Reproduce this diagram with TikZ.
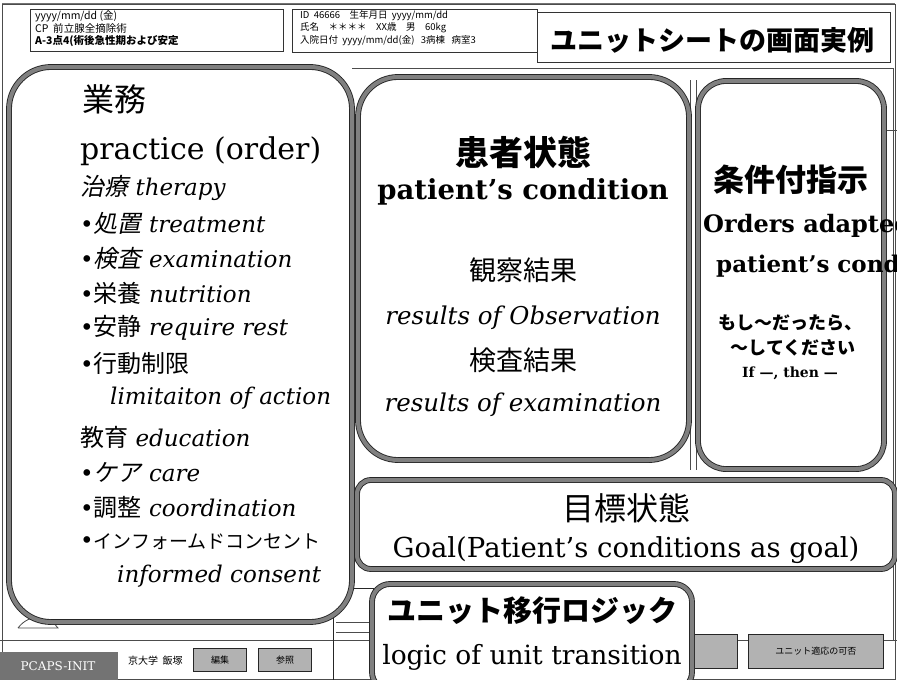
\documentclass[tikz,border=0pt]{standalone}
\usepackage{fontspec}
\setmainfont{DejaVu Serif}
\newfontfamily\jp{Noto Sans CJK JP}
\newfontfamily\jpi[FakeSlant=0.2]{Noto Sans CJK JP}
\begin{document}
\begin{tikzpicture}[x=1pt,y=-1pt,
  panel/.style={draw=black!85, line width=0.9pt, double=black!50, double distance=4pt, fill=white},
  screen/.style={draw=black!70, line width=0.8pt},
  hdr/.style={draw=black!80, line width=0.8pt, fill=white},
  btn/.style={draw=black!85, line width=0.8pt, fill=black!30, font=\jp\fontsize{9}{10}\selectfont, inner sep=0pt},
  ltxt/.style={anchor=west, inner sep=0pt},
  ctxt/.style={anchor=center, inner sep=0pt}]
\useasboundingbox (0,0) rectangle (897,680);
\fill[white] (0,0) rectangle (897,680);
% underlying screen
\draw[screen, line width=2pt, black!55] (2,4) -- (895,4);
\draw[screen] (2,4) rectangle (895,679);
\draw[screen] (352,68) -- (893,68) -- (893,640);
\draw[screen] (885,130) -- (897,130);
\draw[screen] (0,640) -- (370,640);
\draw[screen] (690,80) -- (690,470);
\draw[screen] (696,80) -- (696,470);
% header boxes
\node[hdr, minimum width=253pt, minimum height=42pt, anchor=north west] (h1) at (30,9) {};
\node[ltxt, font=\jp\fontsize{10.5}{11}\selectfont] (h1a) at (35,16) {yyyy/mm/dd (金)};
\node[ltxt, font=\jp\fontsize{10.5}{11}\selectfont] (h1b) at (35,28) {CP\ \ 前立腺全摘除術};
\node[ltxt, font=\jp\bfseries\fontsize{10.5}{11}\selectfont] (h1c) at (35,41) {A-3点4(術後急性期および安定};
\node[hdr, minimum width=245pt, minimum height=43pt, anchor=north west] (h2) at (292,9) {};
\node[ltxt, font=\jp\fontsize{9.5}{10}\selectfont] (h2a) at (300,16) {ID\ \ 46666\quad 生年月日\ \ yyyy/mm/dd};
\node[ltxt, font=\jp\fontsize{9.5}{10}\selectfont] (h2b) at (300,28) {氏名\quad ＊＊＊＊\quad XX歳\quad 男\quad 60kg};
\node[ltxt, font=\jp\fontsize{9.5}{10}\selectfont] (h2c) at (300,41) {入院日付\ \ yyyy/mm/dd(金)\ \ \ 3病棟\ \ \ 病室3};
\node[hdr, minimum width=353pt, minimum height=50pt, anchor=north west] (title) at (537,12) {};
\node[ctxt, font=\jp\bfseries\fontsize{27}{30}\selectfont] (titlet) at (712,40) {ユニットシートの画面実例};
% bottom screen elements
\node[fill=black!55, minimum width=118pt, minimum height=28pt, anchor=north west, inner sep=0pt] (init) at (0,652) {};
\node[ctxt, text=white, font=\fontsize{12}{13}\selectfont] (initt) at (58,666) {PCAPS-INIT};
\node[ltxt, font=\jp\fontsize{10}{11}\selectfont] (univ) at (128,661) {京大学\ \ 飯塚};
\node[btn, minimum width=53pt, minimum height=23pt] (edit) at (220,660) {編集};
\node[btn, minimum width=53pt, minimum height=23pt] (ref) at (285,660) {参照};
\draw[screen] (18,628) .. controls (30,612) and (50,616) .. (58,628) -- (18,628);
\node[btn, minimum width=43pt, minimum height=34pt, anchor=north west] (go) at (694,634) {};
\node[btn, minimum width=135pt, minimum height=34pt, anchor=north west] (fit) at (748,634) {ユニット適応の可否};
\draw[screen] (go.east |- 0,640) -- (fit.west |- 0,640);
\draw[screen] (fit.east |- 0,640) -- (897,640);
\node[draw=black!85, line width=0.8pt, minimum width=40pt, minimum height=95pt, anchor=north west] (mini) at (333,588) {};
\draw[screen] (336,622) -- (370,622) (336,632) -- (370,632);
% panels
\draw[panel, rounded corners=42pt] (9,67) rectangle (352,622);
\node[ltxt, font=\jp\fontsize{32}{34}\selectfont] (gyomu) at (82,99) {業務};
\node[ltxt, font=\fontsize{30}{34}\selectfont] (practice) at (80,151) {practice (order)};
\begin{scope}[every node/.style={ltxt, font=\fontsize{23}{26}\selectfont}]
\node (l1) at (80,188) {{\jpi\fontsize{24}{26}\selectfont 治療} \itshape therapy};
\node (l2) at (80,223) {•{\jpi\fontsize{24}{26}\selectfont 処置} \itshape treatment};
\node (l3) at (80,258) {•{\jpi\fontsize{24}{26}\selectfont 検査} \itshape examination};
\node (l4) at (80,293) {•{\jp\fontsize{24}{26}\selectfont 栄養} \itshape nutrition};
\node (l5) at (80,328) {•{\jp\fontsize{24}{26}\selectfont 安静} \itshape require rest};
\node (l6) at (80,363) {•{\jp\fontsize{24}{26}\selectfont 行動制限}};
\node (l7) at (110,398) {\itshape limitaiton of action};
\node (l8) at (80,437) {{\jp\fontsize{24}{26}\selectfont 教育} \itshape education};
\node (l9) at (80,472) {•{\jpi\fontsize{24}{26}\selectfont ケア} \itshape care};
\node (l10) at (80,507) {•{\jp\fontsize{24}{26}\selectfont 調整} \itshape coordination};
\node (l11) at (80,542) {•{\jp\fontsize{19}{22}\selectfont インフォームドコンセント}};
\node (l12) at (117,576) {\itshape informed consent};
\end{scope}
\draw[panel, rounded corners=40pt] (358,77) rectangle (689,460);
\node[ctxt, font=\jp\bfseries\fontsize{34}{38}\selectfont] (kanja) at (523,152) {患者状態};
\node[ctxt, font=\bfseries\fontsize{27.5}{34}\selectfont] (patient) at (523,192) {patient’s condition};
\node[ctxt, font=\jp\fontsize{27}{30}\selectfont] (kansatsu) at (523,270) {観察結果};
\node[ctxt, font=\itshape\fontsize{24.5}{28}\selectfont] (obs) at (523,318) {results of Observation};
\node[ctxt, font=\jp\fontsize{27}{30}\selectfont] (kensa) at (523,360) {検査結果};
\node[ctxt, font=\itshape\fontsize{24.5}{28}\selectfont] (exam) at (523,405) {results of examination};
\draw[panel, rounded corners=28pt] (698,81) rectangle (884,469);
\node[ctxt, font=\jp\bfseries\fontsize{31}{34}\selectfont] (joken) at (791,180) {条件付指示};
\node[ltxt, font=\bfseries\fontsize{24}{30}\selectfont] (orders) at (703,226) {Orders adapted};
\node[ltxt, font=\bfseries\fontsize{23}{30}\selectfont] (pcond) at (716,266) {patient’s condition};
\node[ctxt, font=\jp\bfseries\fontsize{18}{20}\selectfont] (moshi) at (790,323) {もし〜だったら、};
\node[ctxt, font=\jp\bfseries\fontsize{18}{20}\selectfont] (shite) at (793,348) {〜してください};
\node[ctxt, font=\bfseries\fontsize{14}{18}\selectfont] (ifthen) at (790,373) {If ---, then ---};
\draw[panel, rounded corners=14pt] (357,480) rectangle (895,569);
\node[ctxt, font=\jp\fontsize{32}{34}\selectfont] (mokuhyo) at (626,508) {目標状態};
\node[ctxt, font=\fontsize{27.5}{30}\selectfont] (goal) at (626,550) {Goal(Patient’s conditions as goal)};
\draw[panel, rounded corners=18pt] (372,584) rectangle (692,690);
\node[ctxt, font=\jp\bfseries\fontsize{29}{32}\selectfont] (logicjp) at (532,611) {ユニット移行ロジック};
\node[ctxt, font=\fontsize{26.5}{32}\selectfont] (logic) at (532,657) {logic of unit transition};
\end{tikzpicture}
\end{document}
